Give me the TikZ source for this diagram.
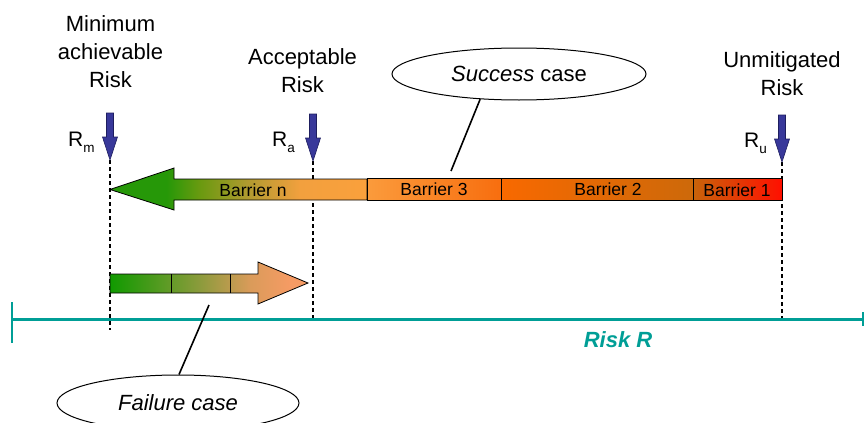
\documentclass[tikz,border=0pt]{standalone}
\usepackage{fontspec}
\setmainfont{Liberation Sans}
\usetikzlibrary{shapes.geometric}

\definecolor{riskteal}{RGB}{0,158,150}
\definecolor{markerblue}{RGB}{56,56,154}
\definecolor{markeredge}{RGB}{30,30,95}
\definecolor{arrowgreen}{RGB}{38,152,8}
\definecolor{arrowolive}{RGB}{106,154,16}
\definecolor{arrowbrown}{RGB}{178,154,48}
\definecolor{arroworange}{RGB}{242,160,62}
\definecolor{barN}{RGB}{250,160,60}
\definecolor{bThreeL}{RGB}{250,155,60}
\definecolor{bThreeR}{RGB}{248,110,15}
\definecolor{bTwoL}{RGB}{248,105,0}
\definecolor{bTwoR}{RGB}{205,105,10}
\definecolor{bOneL}{RGB}{200,100,10}
\definecolor{bOneR}{RGB}{255,15,0}
\definecolor{failgreen}{RGB}{16,154,0}
\definecolor{failolive}{RGB}{140,155,60}
\definecolor{failtan}{RGB}{218,155,90}
\definecolor{failorange}{RGB}{246,155,100}

% green-to-orange ramp of the "Barrier n" arrow
\pgfdeclarehorizontalshading{barnramp}{100bp}{
  color(0bp)=(arrowgreen); color(25bp)=(arrowgreen); color(36bp)=(arrowgreen);
  color(42.5bp)=(arrowolive); color(52bp)=(arrowbrown); color(62bp)=(arroworange);
  color(75bp)=(barN); color(100bp)=(barN)}

% green-to-salmon ramp of the failure arrow
\pgfdeclarehorizontalshading{failramp}{100bp}{
  color(0bp)=(failgreen); color(25bp)=(failgreen); color(47.7bp)=(failolive);
  color(60.4bp)=(failtan); color(70.5bp)=(failorange);
  color(75bp)=(failorange); color(100bp)=(failorange)}

\newcommand\lowsub[1]{\raisebox{-6pt}{\fontsize{13.5}{14}\selectfont #1}}

\tikzset{
  heading/.style={align=center, font=\fontsize{22}{28}\selectfont, inner sep=0pt, anchor=base},
  rlabel/.style={font=\fontsize{21}{24}\selectfont, inner sep=0pt, anchor=base west},
  barlabel/.style={font=\fontsize{17.5}{20}\selectfont, inner sep=0pt, anchor=base},
  guide/.style={line width=2pt, dash pattern=on 4pt off 3pt},
  callout/.style={line width=1.6pt},
  bubble/.style={ellipse, draw, line width=1pt, fill=white, inner sep=0pt,
                 font=\fontsize{22}{26}\selectfont},
  barrier/.style={draw, line width=0.8pt},
  axisline/.style={draw=riskteal, line width=3.5pt},
  marker/.pic={
    \draw[fill=markerblue, draw=markeredge, line width=0.6pt]
      (-3.5,-47) -- (3.5,-47) -- (3.5,-23) -- (7.5,-23) -- (0,0)
      -- (-7.5,-23) -- (-3.5,-23) -- cycle;
  }
}

\begin{document}
\begin{tikzpicture}[x=1pt, y=-1pt]
  \useasboundingbox (0,0) rectangle (865,423);
  \clip (0,0) rectangle (865,423);

  % reference points on the risk scale
  \coordinate (mtip)  at (110,160);
  \coordinate (mfoot) at (110,330);
  \coordinate (atip)  at (313,161);
  \coordinate (afoot) at (313,320);
  \coordinate (utip)  at (782,162);
  \coordinate (ufoot) at (782,318);
  \coordinate (axL) at (12,319.5);
  \coordinate (axR) at (863,319.5);

  % vertical guides
  \draw[guide] (mtip) -- (mfoot);
  \draw[guide] (atip) -- (afoot);
  \draw[guide] (utip) -- (ufoot);

  % risk axis
  \draw[axisline] (axL) -- (axR);
  \draw[draw=riskteal, line width=2pt] (12,302) -- (12,343);
  \draw[draw=riskteal, line width=2.5pt] (863,312) -- (863,326);
  \node[font=\fontsize{22}{26}\selectfont\bfseries\itshape, text=riskteal,
        inner sep=0pt, anchor=base] (axlabel) at (618,347) {Risk R};

  % markers
  \pic at (mtip) {marker};
  \pic at (atip) {marker};
  \pic at (utip) {marker};

  % headings (anchored on the baseline of their last line)
  \node[heading] (minlbl) at (110.5,87) {Minimum\\achievable\\Risk};
  \node[heading] (acclbl) at (302.5,92) {Acceptable\\Risk};
  \node[heading] (unmlbl) at (782,95) {Unmitigated\\Risk};

  \node[rlabel] (rm) at (68,146) {R\lowsub{m}};
  \node[rlabel] (ra) at (272,146) {R\lowsub{a}};
  \node[rlabel] (ru) at (744,147) {R\lowsub{u}};

  % success arrow: barriers reducing risk from R_u down to R_m
  \path[barrier, shading=barnramp]
    (367,179) -- (174,179) -- (174,168) -- (110,189.5) -- (174,210)
    -- (174,200) -- (367,200) -- cycle;
  \path[barrier, left color=bThreeL, right color=bThreeR] (367,178.5) rectangle (501,200);
  \path[barrier, left color=bTwoL, right color=bTwoR] (501,178.5) rectangle (693,200);
  \path[barrier, left color=bOneL, right color=bOneR] (693,178.5) rectangle (782,200);

  \node[barlabel] (bn) at (253,196) {Barrier n};
  \node[barlabel] (b3) at (434,195.5) {Barrier 3};
  \node[barlabel] (b2) at (608,195.5) {Barrier 2};
  \node[barlabel] (b1) at (737,196.5) {Barrier 1};

  % failure arrow
  \path[barrier, shading=failramp]
    (110,274) -- (258,274) -- (258,262) -- (308,283) -- (258,304)
    -- (258,293) -- (110,293) -- cycle;
  \draw[line width=0.8pt] (171,274) -- (171,293);
  \draw[line width=0.8pt] (230,274) -- (230,293);

  % callouts
  \node[bubble, minimum width=254pt, minimum height=52pt] (succ) at (519,74)
    {\textit{Success} case};
  \node[bubble, minimum width=242pt, minimum height=56pt] (fail) at (178,403)
    {\textit{Failure case}};
  \coordinate (spoint) at (451,171);
  \coordinate (fpoint) at (209,305);
  \draw[callout] (succ.-147) -- (spoint);
  \draw[callout] (fpoint) -- (fail.88);
\end{tikzpicture}
\end{document}
